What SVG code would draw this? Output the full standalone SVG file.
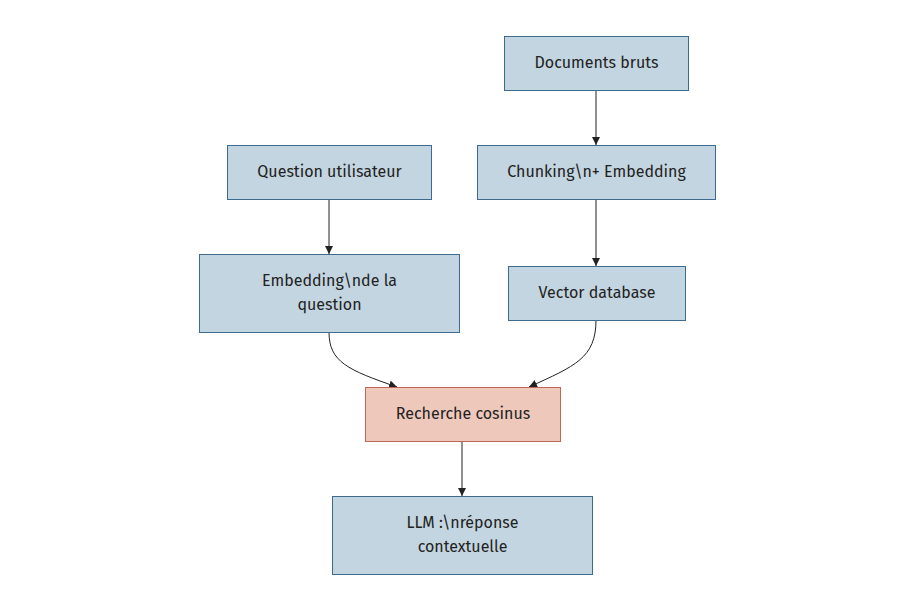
<svg xmlns="http://www.w3.org/2000/svg" width="915" height="610" viewBox="0 0 915 610">
<style>
.n rect{fill:#c3d5e0;stroke:#3f6a90;stroke-width:1}
.h rect{fill:#efc8bc;stroke:#c0675b;stroke-width:1}
text{font-family:"Fira Sans","Noto Sans","Open Sans",sans-serif;font-size:16px;fill:#222;text-anchor:middle;dominant-baseline:central}
.e path{fill:none;stroke:#222;stroke-width:1}
</style>
<defs>
<marker id="a" viewBox="0 0 10 10" refX="10" refY="5" markerWidth="8" markerHeight="8" markerUnits="userSpaceOnUse" orient="auto"><path d="M0,0L10,5L0,10z" fill="#222"/></marker>
</defs>
<rect width="915" height="610" fill="#fff"/>
<g class="e">
<path d="M596,90V145" marker-end="url(#a)"/>
<path d="M329,199V254" marker-end="url(#a)"/>
<path d="M596,199V266" marker-end="url(#a)"/>
<path d="M329,332C329,362 348,370 397,387" marker-end="url(#a)"/>
<path d="M596,320C596,358 575,366 529,387" marker-end="url(#a)"/>
<path d="M462,441V496" marker-end="url(#a)"/>
</g>
<g id="docs" class="n"><rect x="504.5" y="36.5" width="184" height="54"/><text x="596.5" y="62">Documents bruts</text></g>
<g id="chunk" class="n"><rect x="477.5" y="145.5" width="238" height="54"/><text x="596.5" y="171">Chunking\n+ Embedding</text></g>
<g id="question" class="n"><rect x="227.5" y="145.5" width="204" height="54"/><text x="329.5" y="171">Question utilisateur</text></g>
<g id="embq" class="n"><rect x="199.5" y="254.5" width="260" height="78"/><text x="329.5" y="280">Embedding\nde la</text><text x="329.5" y="304">question</text></g>
<g id="vdb" class="n"><rect x="508.5" y="266.5" width="177" height="54"/><text x="597" y="292">Vector database</text></g>
<g id="cos" class="h"><rect x="365.5" y="387.5" width="195" height="54"/><text x="463" y="413">Recherche cosinus</text></g>
<g id="llm" class="n"><rect x="332.5" y="496.5" width="260" height="78"/><text x="462.5" y="522">LLM :\nréponse</text><text x="462.5" y="546">contextuelle</text></g>
</svg>
